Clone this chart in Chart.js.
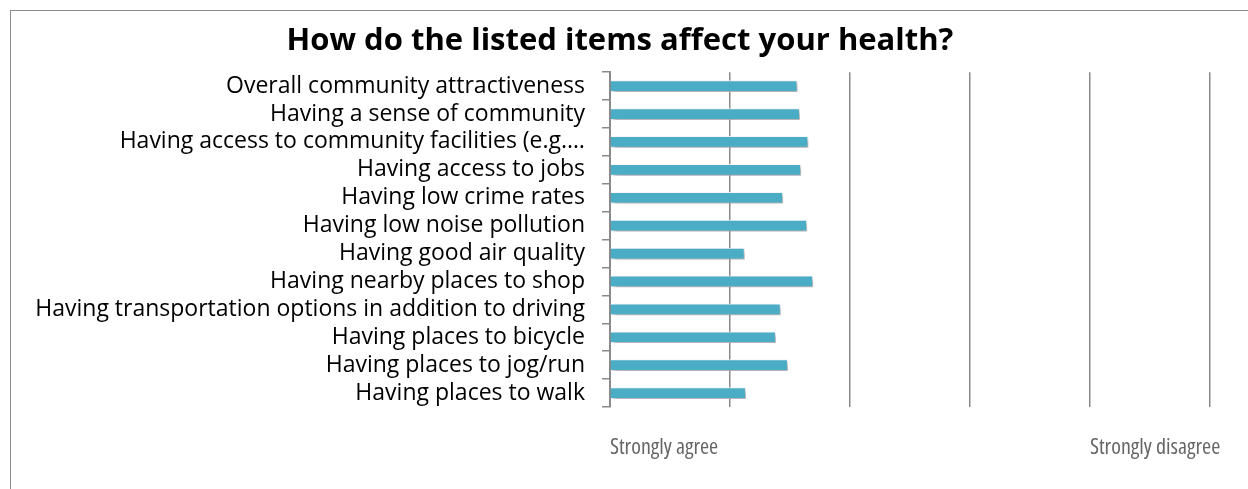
<!DOCTYPE html>
<html>
<head>
<meta charset="utf-8">
<script src="https://cdn.jsdelivr.net/npm/chart.js@4.4.1/dist/chart.umd.min.js"></script>
<style>
  html, body { margin: 0; padding: 0; background: #fff; overflow: hidden; }
  #frame { position: absolute; left: 10px; top: 10px; width: 1400px; height: 700px; border: 1.5px solid #8a8a8a; }
  #wrap { position: absolute; left: 0; top: 0; width: 1248px; height: 489px; }
</style>
</head>
<body>
<div id="frame"></div>
<div id="wrap"><canvas id="chart"></canvas></div>
<script>
// ──────────────── 数据 ────────────────
const items = [
  'Overall community attractiveness',
  'Having a sense of community',
  'Having access to community facilities (e.g.…',
  'Having access to jobs',
  'Having low crime rates',
  'Having low noise pollution',
  'Having good air quality',
  'Having nearby places to shop',
  'Having transportation options in addition to driving',
  'Having places to bicycle',
  'Having places to jog/run',
  'Having places to walk'
];
const scores = [1.56, 1.58, 1.65, 1.59, 1.44, 1.64, 1.12, 1.69, 1.42, 1.38, 1.48, 1.13];
const scaleLabels = ['Strongly agree', '', '', '', 'Strongly disagree', ''];

const GRID = '#8a8a8a';

// 柱子阴影
const barShadow = {
  id: 'barShadow',
  beforeDatasetDraw(chart) {
    const ctx = chart.ctx;
    ctx.save();
    ctx.shadowColor = 'rgba(0,0,0,0.35)';
    ctx.shadowBlur = 5;
    ctx.shadowOffsetX = 3;
    ctx.shadowOffsetY = 3;
  },
  afterDatasetDraw(chart) {
    chart.ctx.restore();
  }
};

new Chart(document.getElementById('chart'), {
  type: 'bar',
  data: {
    labels: items,
    datasets: [{
      data: scores,
      backgroundColor: '#4bacc6',
      borderColor: 'rgba(255,255,255,0.85)',
      borderWidth: 1,
      borderSkipped: 'start',
      barThickness: 11
    }]
  },
  options: {
    indexAxis: 'y',
    responsive: true,
    maintainAspectRatio: false,
    animation: false,
    layout: { padding: { left: 30, right: 38, top: 0, bottom: 0 } },
    plugins: {
      legend: { display: false },
      tooltip: { enabled: false },
      title: {
        display: true,
        text: 'How do the listed items affect your health?',
        color: '#000',
        font: { family: '"Open Sans", sans-serif', size: 31, weight: 'bold' },
        padding: { top: 23, bottom: 12 }
      }
    },
    scales: {
      x: {
        min: 0,
        max: 5,
        afterFit: s => { s.height = 82; },
        ticks: {
          stepSize: 1,
          autoSkip: false,
          maxRotation: 0,
          align: 'start',
          padding: 28,
          color: '#666',
          font: { family: '"Open Sans", sans-serif', size: 22, weight: 'normal condensed' },
          callback: (v) => scaleLabels[v] || ''
        },
        grid: {
          drawTicks: false,
          color: ctx => ctx.index === 0 ? 'rgba(0,0,0,0)' : GRID,
          lineWidth: 1.5
        },
        border: { display: false }
      },
      y: {
        afterFit: s => { s.width = 580; },
        ticks: {
          autoSkip: false,
          color: '#000',
          padding: 17,
          font: { family: '"Open Sans", sans-serif', size: 23 }
        },
        grid: {
          offset: true,
          drawOnChartArea: false,
          tickLength: 8,
          color: GRID,
          lineWidth: 1.5
        },
        border: { color: GRID, width: 2 }
      }
    }
  },
  plugins: [barShadow]
});
</script>
</body>
</html>
